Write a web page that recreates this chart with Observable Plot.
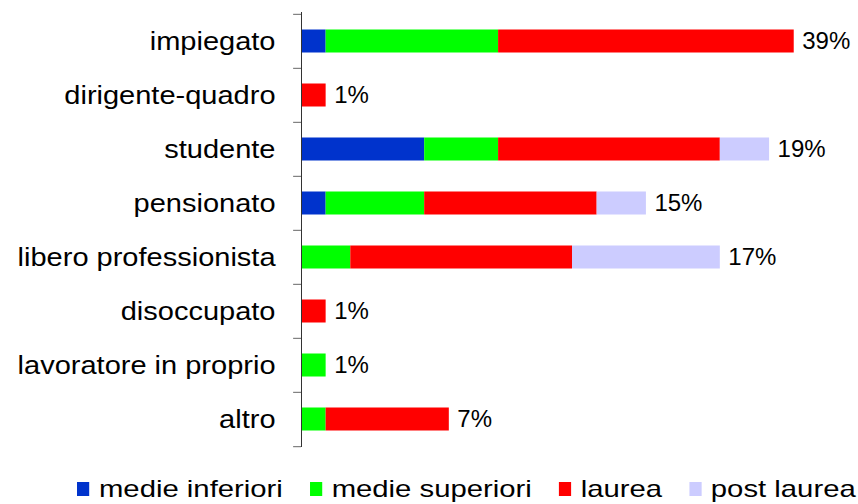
<!DOCTYPE html>
<html>
<head>
<meta charset="utf-8">
<script src="https://cdn.jsdelivr.net/npm/d3@7"></script>
<script src="https://cdn.jsdelivr.net/npm/@observablehq/plot@0.6"></script>
<style>
  html, body { margin: 0; padding: 0; background: #fff; }
  #wrap { position: relative; width: 858px; height: 504px; overflow: hidden; font-family: "Liberation Sans", Arial, sans-serif; }
  #legend { position: absolute; left: 77px; top: 475px; display: flex; align-items: center; font-size: 24px; color: #000; transform: scaleX(1.22); transform-origin: left center; white-space: nowrap; }
  .item { display: flex; align-items: center; margin-right: 22px; }
  .sw { width: 10px; height: 14px; margin-right: 8px; }
</style>
</head>
<body>
<div id="wrap"><div id="chart"></div><div id="legend"></div></div>
<script>
const categories = ["impiegato", "dirigente-quadro", "studente", "pensionato", "libero professionista", "disoccupato", "lavoratore in proprio", "altro"];
const levels = ["medie inferiori", "medie superiori", "laurea", "post laurea"];
const colors = ["#0033cc", "#00ff00", "#ff0000", "#ccccff"];
const medieInferiori = [1, 0, 5, 1, 0, 0, 0, 0];
const medieSuperiori = [7, 0, 3, 4, 2, 0, 1, 1];
const laurea = [12, 1, 9, 7, 9, 1, 0, 5];
const postLaurea = [0, 0, 2, 2, 6, 0, 0, 0];
const labels = ["39%", "1%", "19%", "15%", "17%", "1%", "1%", "7%"];

const series = [medieInferiori, medieSuperiori, laurea, postLaurea];
const rows = [];
categories.forEach((c, i) => {
  levels.forEach((l, j) => {
    if (series[j][i] > 0) rows.push({cat: c, level: l, value: series[j][i]});
  });
});
const totals = categories.map((c, i) => ({cat: c, total: series.reduce((s, a) => s + a[i], 0), label: labels[i]}));

const W = 858, H = 455, mT = 12, mB = 8;
const step = (H - mT - mB) / categories.length;
const ff = "Liberation Sans, Arial, sans-serif";

const svg = Plot.plot({
  width: W, height: H,
  marginLeft: 301, marginRight: 15, marginTop: mT, marginBottom: mB,
  style: {fontFamily: ff, fontSize: "24px", color: "#000", background: "#fff"},
  x: {domain: [0, 22], axis: null},
  y: {domain: categories, padding: 0, axis: null},
  color: {domain: levels, range: colors},
  marks: [
    Plot.barX(rows, Plot.stackX({x: "value", y: "cat", fill: "level", order: levels, insetTop: 15.5, insetBottom: 15.5})),
    Plot.ruleX([0], {stroke: "#333", strokeWidth: 1}),
    Plot.ruleY(categories, {y: d => d, x1: -0.32, x2: 0, dy: -step / 2, stroke: "#666"}),
    Plot.ruleY(categories.slice(-1), {y: d => d, x1: -0.32, x2: 0, dy: step / 2, stroke: "#666"}),
    Plot.axisY({tickSize: 0, tickPadding: 26, fontSize: 25, fill: "#000", label: null}),
    Plot.text(totals, {x: "total", y: "cat", text: "label", textAnchor: "start", dx: 8, fontSize: 24, fill: "#000"})
  ]
});
document.getElementById("chart").appendChild(svg);

// the category labels in the reference are drawn slightly wider than the font's natural width
svg.querySelectorAll('g[aria-label="y-axis tick label"] text').forEach(t => {
  const w = t.getComputedTextLength();
  t.setAttribute("lengthAdjust", "spacingAndGlyphs");
  t.setAttribute("textLength", (w * 1.16).toFixed(1));
});

const legend = document.getElementById("legend");
levels.forEach((l, i) => {
  const it = document.createElement("div");
  it.className = "item";
  const sw = document.createElement("div");
  sw.className = "sw";
  sw.style.background = colors[i];
  const tx = document.createElement("span");
  tx.textContent = l;
  it.appendChild(sw); it.appendChild(tx);
  legend.appendChild(it);
});
</script>
</body>
</html>
